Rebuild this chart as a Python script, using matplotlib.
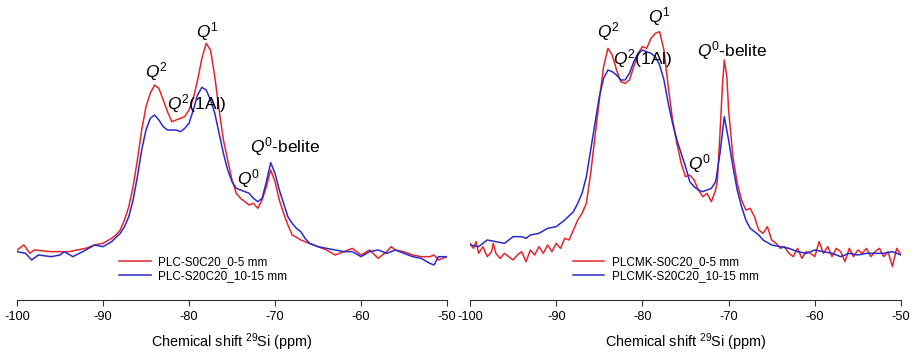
import numpy as np
import matplotlib
matplotlib.use("Agg")
import matplotlib.pyplot as plt

plt.rcParams["font.family"] = ["Liberation Sans", "DejaVu Sans"]
plt.rcParams["mathtext.fontset"] = "custom"
plt.rcParams["mathtext.it"] = "Liberation Sans:italic"
plt.rcParams["mathtext.rm"] = "Liberation Sans"
plt.rcParams["axes.unicode_minus"] = False

RED = "#e3262b"
BLUE = "#2a2ac8"

# ---------------- data (intensity in a.u.) ----------------
# left panel: PLC
plc_red_ppm = [-100, -99.2, -98.5, -98, -96, -94, -92, -91, -90, -89, -88.5, -88,
               -87.5, -87, -86.5, -86, -85.5, -85, -84.5, -84, -83.5, -83, -82.5,
               -82, -81.5, -81, -80.5, -80, -79.5, -79, -78.5, -78, -77.5, -77,
               -76.5, -76, -75.5, -75, -74.5, -74, -73.5, -73, -72.5, -72, -71.5,
               -71, -70.5, -70, -69.5, -69, -68.5, -68, -67.5, -67, -66, -65, -64,
               -63, -62, -61, -60, -59, -58, -57, -56.5, -56, -55, -54, -53, -52,
               -51.5, -51, -50]
plc_red_int = [150, 165, 140, 150, 145, 145, 155, 165, 170, 185, 195, 210,
               240, 280, 340, 420, 510, 580, 620, 645, 635, 600, 565,
               535, 540, 545, 550, 570, 605, 660, 725, 770, 750, 670,
               570, 480, 420, 360, 320, 305, 295, 285, 290, 275, 300,
               340, 390, 355, 300, 260, 225, 195, 188, 180, 170, 160, 150,
               135, 145, 155, 135, 150, 125, 145, 160, 150, 145, 135, 130, 130,
               135, 120, 130]

plc_blue_ppm = [-100, -99, -98.3, -97.5, -96, -95, -94.5, -93.5, -92, -91, -90, -89,
                -88, -87.5, -87, -86.5, -86, -85.5, -85, -84.5, -84, -83.5, -83,
                -82.5, -82, -81.5, -81, -80.5, -80, -79.5, -79, -78.5, -78, -77.5,
                -77, -76.5, -76, -75.5, -75, -74.5, -74, -73.5, -73, -72.5, -72,
                -71.5, -71, -70.5, -70, -69.5, -69, -68.5, -68, -67.5, -67, -66.5,
                -66, -65, -64, -63, -62, -61, -60, -59, -58, -57, -56, -55, -54,
                -53, -52, -51.5, -51, -50]
plc_blue_int = [145, 140, 120, 135, 130, 135, 145, 130, 150, 165, 160, 175,
                200, 220, 250, 300, 370, 450, 510, 545, 555, 540, 520,
                510, 510, 510, 505, 515, 530, 570, 615, 638, 630, 600,
                560, 500, 440, 390, 355, 335, 330, 325, 320, 305, 295,
                305, 355, 412, 380, 330, 290, 250, 230, 215, 205, 185,
                170, 160, 155, 150, 145, 145, 130, 145, 150, 140, 150, 140, 130,
                125, 110, 105, 130, 130]

# right panel: PLCMK
plcmk_red_ppm = [-100, -99.6, -99.3, -99, -98.5, -98, -97.5, -97.3, -97, -96.5, -96,
                 -95.5, -95, -94.5, -94, -93.5, -93, -92.5, -92, -91.5, -91, -90.5,
                 -90, -89.5, -89, -88.5, -88, -87.5, -87, -86.5, -86, -85.5, -85,
                 -84.5, -84, -83.5, -83, -82.5, -82, -81.5, -81, -80.5, -80, -79.5,
                 -79, -78.5, -78, -77.5, -77, -76.5, -76, -75.5, -75, -74.5, -74,
                 -73.5, -73, -72.5, -72, -71.5, -71.3, -71, -70.7, -70.5, -70.2,
                 -70, -69.5, -69, -68.5, -68, -67.5, -67, -66.5, -66, -65.5, -65,
                 -64.5, -64, -63.5, -63, -62.5, -62, -61.5, -61, -60.5, -60, -59.5,
                 -59, -58.5, -58, -57.5, -57, -56.5, -56, -55.5, -55, -54.5, -54,
                 -53.5, -53, -52.5, -52, -51.5, -51, -50.5, -50]
plcmk_red_int = [170, 155, 175, 140, 160, 130, 145, 170, 140, 125, 140,
                 130, 120, 135, 145, 115, 150, 135, 160, 140, 165, 145,
                 170, 155, 185, 180, 210, 240, 260, 290, 380, 490, 600,
                 700, 755, 735, 690, 655, 650, 660, 700, 740, 760, 755,
                 785, 800, 805, 750, 640, 540, 470, 410, 370, 375, 360,
                 330, 310, 320, 295, 330, 360, 500, 650, 720, 670,
                 570, 430, 350, 300, 270, 275, 250, 210, 200, 220, 180,
                 170, 155, 160, 140, 130, 155, 125, 145, 140, 130, 175,
                 140, 160, 130, 155, 145, 115, 155, 130, 150, 140, 155,
                 130, 145, 155, 130, 145, 100, 155, 135]

plcmk_blue_ppm = [-100, -99, -98, -97, -96, -95, -94, -93.5, -93, -92, -91, -90, -89,
                  -88, -87.5, -87, -86.5, -86, -85.5, -85, -84.5, -84, -83.5, -83,
                  -82.5, -82, -81.5, -81, -80.5, -80, -79.5, -79, -78.5, -78, -77.5,
                  -77, -76.5, -76, -75.5, -75, -74.5, -74, -73.5, -73, -72.5, -72,
                  -71.5, -71, -70.5, -70, -69.5, -69, -68.5, -68, -67.5, -67, -66.5,
                  -66, -65, -64, -63, -62, -61, -60, -59, -58, -57, -56, -55, -54,
                  -53, -52, -51, -50]
plcmk_blue_int = [165, 160, 180, 175, 170, 190, 190, 185, 195, 200, 215, 220, 240,
                  265, 290, 320, 370, 450, 530, 610, 665, 690, 685, 675,
                  660, 660, 680, 715, 740, 750, 745, 740, 730, 705, 660,
                  590, 530, 480, 440, 400, 355, 340, 330, 325, 330, 335,
                  355, 440, 550, 480, 400, 330, 280, 240, 215, 205, 195,
                  180, 165, 160, 155, 145, 140, 150, 145, 140, 130, 140, 135, 140,
                  140, 140, 145, 135]

xticks = [-100, -90, -80, -70, -60, -50]
xlabel = "Chemical shift $^{29}$Si (ppm)"

panels = [
    dict(red=(plc_red_ppm, plc_red_int), blue=(plc_blue_ppm, plc_blue_int),
         labels=("PLC-S0C20_0-5 mm", "PLC-S20C20_10-15 mm"),
         rect=[17 / 918, 55 / 355, 430 / 918, 300 / 355],
         leg_x=0.237,
         notes=[("$Q^2$", -83.84, 685), ("$Q^1$", -77.9, 805),
                ("$Q^2$(1Al)", -79.15, 588), ("$Q^0$-belite", -68.8, 460),
                ("$Q^0$", -73.06, 365)]),
    dict(red=(plcmk_red_ppm, plcmk_red_int), blue=(plcmk_blue_ppm, plcmk_blue_int),
         labels=("PLCMK-S0C20_0-5 mm", "PLCMK-S20C20_10-15 mm"),
         rect=[470 / 918, 55 / 355, 431 / 918, 300 / 355],
         leg_x=0.238,
         notes=[("$Q^2$", -83.94, 805), ("$Q^1$", -78.02, 850),
                ("$Q^2$(1Al)", -79.99, 725), ("$Q^0$-belite", -69.54, 748),
                ("$Q^0$", -73.37, 410)]),
]

fig = plt.figure(figsize=(9.18, 3.55), dpi=100)
for p in panels:
    ax = fig.add_axes(p["rect"])
    ax.plot(*p["red"], color=RED, lw=1.1, label=p["labels"][0])
    ax.plot(*p["blue"], color=BLUE, lw=1.1, label=p["labels"][1])
    ax.set_xlim(-100, -50)
    ax.set_ylim(0, 900)
    ax.set_xticks(xticks)
    ax.set_yticks([])
    for s in ("top", "right", "left"):
        ax.spines[s].set_visible(False)
    ax.spines["bottom"].set_color("#333333")
    ax.tick_params(axis="x", direction="out", length=4, color="#333333",
                   labelsize=9.2, pad=4)
    ax.set_xlabel(xlabel, fontsize=10.4, labelpad=6)
    for txt, x, y in p["notes"]:
        ax.text(x, y, txt, fontsize=12.5, ha="center", va="center")
    ax.legend(loc="upper left", bbox_to_anchor=(p["leg_x"], 0.145), frameon=False,
              fontsize=8.5, borderaxespad=0, borderpad=0, handlelength=2.7,
              handletextpad=0.6, labelspacing=0.15)

fig.savefig("out.png", dpi=100)
